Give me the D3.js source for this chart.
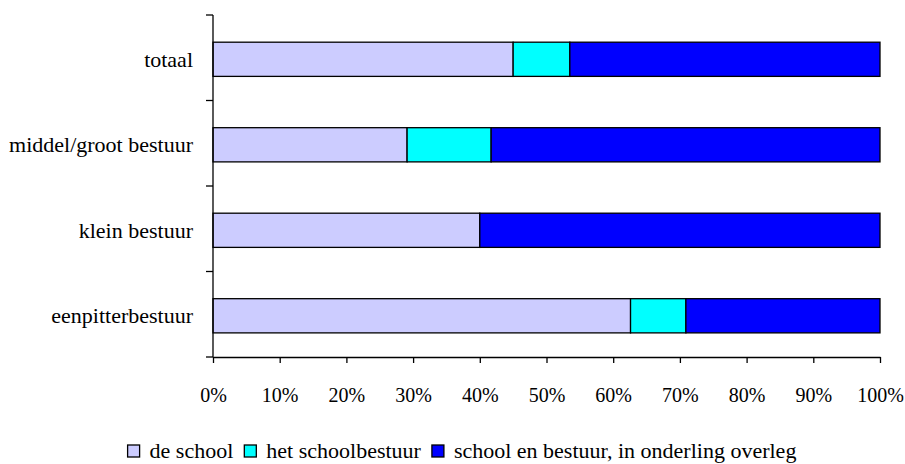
<!DOCTYPE html>
<html><head><meta charset="utf-8">
<script src="https://cdn.jsdelivr.net/npm/d3@7"></script>
<style>body{margin:0;background:#fff}svg{display:block}</style>
</head><body>
<svg id="c" width="905" height="464"></svg>
<script>
const categories = ["totaal","middel/groot bestuur","klein bestuur","eenpitterbestuur"];
const seriesNames = ["de school","het schoolbestuur","school en bestuur, in onderling overleg"];
const deSchool = [45.0, 29.1, 40.0, 62.6];
const hetSchoolbestuur = [8.5, 12.6, 0, 8.3];
const samen = [46.5, 58.3, 60.0, 29.1];
const colors = ["#CCCCFF","#00FFFF","#0000FF"];
const xTicks = [0,10,20,30,40,50,60,70,80,90,100];

const FONT = "Liberation Serif, Times New Roman, serif";
const svg = d3.select("#c");
const x = d3.scaleLinear().domain([0,100]).range([213,880]);
const y = d3.scaleBand().domain(categories).range([15,357]).paddingInner(0.6).paddingOuter(0.3).align(0.53);

const rows = categories.map((c,i)=>({cat:c, vals:[deSchool[i],hetSchoolbestuur[i],samen[i]]}));
rows.forEach(r=>{
  let acc=0;
  r.vals.forEach((v,k)=>{
    if(v>0){
      svg.append("rect").attr("x",x(acc)).attr("y",y(r.cat)).attr("width",x(acc+v)-x(acc))
        .attr("height",y.bandwidth()).attr("fill",colors[k]).attr("stroke","#000").attr("stroke-width",1.3);
    }
    acc+=v;
  });
});

// y axis
const yAxisG = svg.append("g");
yAxisG.append("line").attr("x1",213).attr("x2",213).attr("y1",15).attr("y2",357).attr("stroke","#000").attr("stroke-width",1.3);
const step = (357-15)/categories.length;
for(let i=0;i<=categories.length;i++){
  const yy = 15+i*step;
  yAxisG.append("line").attr("x1",206).attr("x2",213).attr("y1",yy).attr("y2",yy).attr("stroke","#000").attr("stroke-width",1.3);
}
categories.forEach(c=>{
  svg.append("text").attr("x",193).attr("y",y(c)+y.bandwidth()/2).attr("dy","0.35em")
    .attr("text-anchor","end").attr("font-size",22).style("font-family",FONT).attr("fill","#000").text(c);
});

// x axis
const xAxis = d3.axisBottom(x).tickValues(xTicks).tickFormat(d=>d+"%").tickSize(6).tickSizeOuter(0).tickPadding(25);
const xg = svg.append("g").attr("transform","translate(0,357)").call(xAxis);
xg.select(".domain").attr("stroke","#000").attr("stroke-width",1.3);
xg.selectAll(".tick line").attr("stroke","#000").attr("stroke-width",1.3);
xg.selectAll(".tick text").attr("font-size",20).style("font-family",FONT).attr("fill","#000");

// legend
const lg = svg.append("g");
let lx = 0;
seriesNames.forEach((n,k)=>{
  const g = lg.append("g").attr("transform",`translate(${lx},0)`);
  g.append("rect").attr("x",0).attr("y",-5).attr("width",12).attr("height",12).attr("fill",colors[k]).attr("stroke","#000").attr("stroke-width",1.3);
  const t = g.append("text").attr("x",22).attr("y",0).attr("dy","0.35em").attr("font-size",22).style("font-family",FONT).attr("fill","#000").text(n);
  const w = t.node().getComputedTextLength();
  lx += 22 + w + 11;
});
const total = lx-11;
lg.attr("transform",`translate(${462-total/2},450)`);
</script>
</body></html>
